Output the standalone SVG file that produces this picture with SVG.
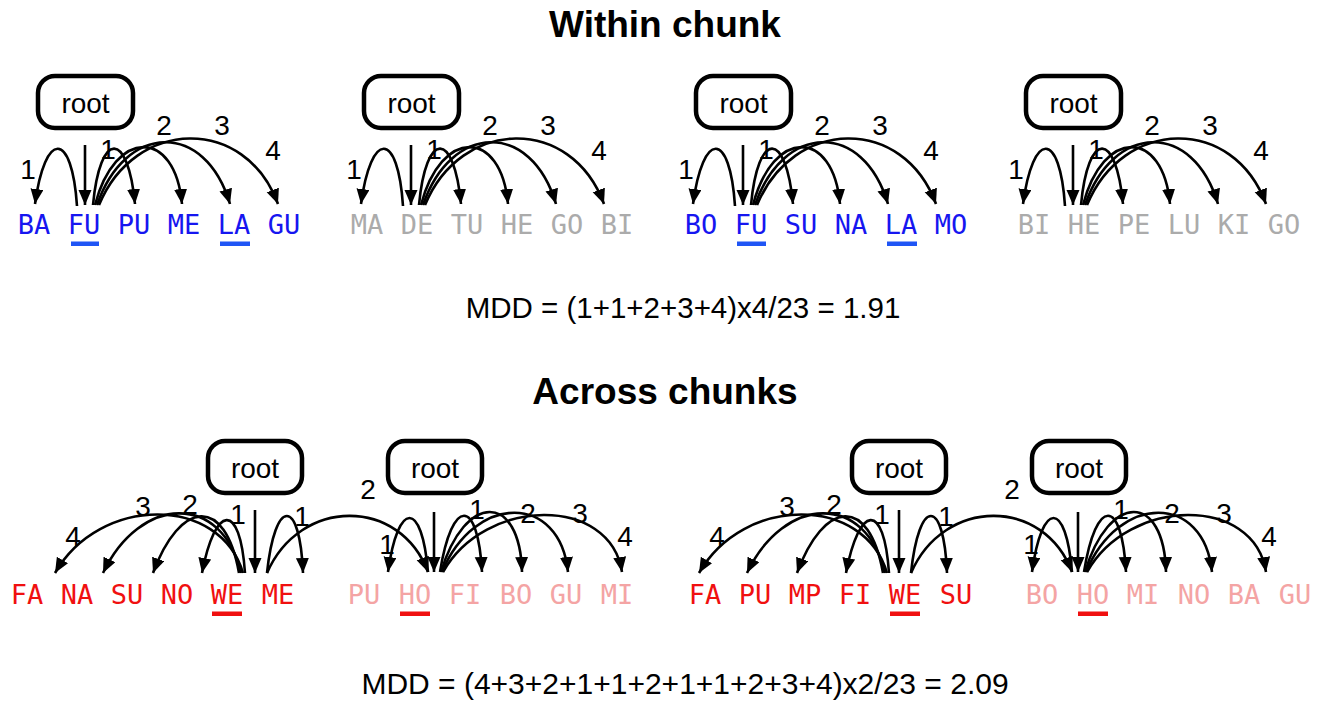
<svg xmlns="http://www.w3.org/2000/svg" width="1325" height="702" viewBox="0 0 1325 702">
<style>
.title{font-family:"Liberation Sans",Arial,sans-serif;font-weight:bold;font-size:37px;text-anchor:middle;fill:#000}
.formula{font-family:"Liberation Sans",Arial,sans-serif;font-size:29.5px;text-anchor:middle;fill:#000}
.rootbox{fill:#fff;stroke:#000;stroke-width:4.5}
.roottxt{font-family:"Liberation Sans",Arial,sans-serif;font-size:28px;text-anchor:middle;fill:#000}
.w{font-family:"DejaVu Sans Mono","Liberation Mono",monospace;font-size:27px;text-anchor:middle}
.blue{fill:#1616f0}
.gray{fill:#ababab}
.red{fill:#f01010}
.pink{fill:#f4a4a4}
.ulb{fill:#1f55f5}
.ulr{fill:#f01010}
.arc{fill:none;stroke:#000;stroke-width:2.6;marker-end:url(#ah)}
.lbl{font-family:"Liberation Sans",Arial,sans-serif;font-size:28px;text-anchor:middle;fill:#000}
</style>
<defs>
<marker id="ah" markerUnits="userSpaceOnUse" markerWidth="16" markerHeight="14" refX="15" refY="6.5" orient="auto">
<path d="M0,0 L15,6.5 L0,13 z" fill="#000"/>
</marker>
<g id="topConn">
<path class="arc" d="M85,145 L85,205"/>
<path class="arc" d="M77,206 C72,130 45,130 35,204"/>
<path class="arc" d="M93,205 C100,130 128,130 135,204"/>
<path class="arc" d="M95,205 C115,128 175,128 182,204"/>
<path class="arc" d="M97,205 C125,123 205,120 230,204"/>
<path class="arc" d="M99,205 C135,118 245,115 278,204"/>
<text class="lbl" x="28" y="179">1</text>
<text class="lbl" x="108" y="159">1</text>
<text class="lbl" x="164" y="135">2</text>
<text class="lbl" x="222" y="135">3</text>
<text class="lbl" x="273" y="160">4</text>
</g>
<g id="botConn">
<path class="arc" d="M255,510 L255,573"/>
<path class="arc" d="M243,573 C220,495 100,495 55,573"/>
<path class="arc" d="M241,573 C222,492 140,495 103,573"/>
<path class="arc" d="M239,573 C225,495 180,500 153,573"/>
<path class="arc" d="M245,573 C240,500 215,505 202,573"/>
<path class="arc" d="M267,573 C275,497 300,497 303,573"/>
<path class="arc" d="M267,573 C300,497 400,497 428,572"/>
<path class="arc" d="M434,512 L434,572"/>
<path class="arc" d="M428,572 C422,500 398,500 388,572"/>
<path class="arc" d="M440,572 C452,497 478,497 482,572"/>
<path class="arc" d="M441,572 C465,492 520,492 522,572"/>
<path class="arc" d="M442,572 C475,493 560,493 568,572"/>
<path class="arc" d="M443,572 C485,497 610,495 622,572"/>
<text class="lbl" x="73" y="546">4</text>
<text class="lbl" x="143" y="516">3</text>
<text class="lbl" x="190" y="514">2</text>
<text class="lbl" x="238" y="524">1</text>
<text class="lbl" x="302" y="526">1</text>
<text class="lbl" x="368" y="499">2</text>
<text class="lbl" x="387" y="554">1</text>
<text class="lbl" x="477" y="519">1</text>
<text class="lbl" x="528" y="523">2</text>
<text class="lbl" x="580" y="523">3</text>
<text class="lbl" x="625" y="546">4</text>
</g>
</defs>
<rect width="1325" height="702" fill="#fff"/>
<text class="title" x="665" y="37">Within chunk</text>
<text class="title" x="665" y="404">Across chunks</text>
<text class="formula" x="683" y="318">MDD = (1+1+2+3+4)x4/23 = 1.91</text>
<text class="formula" x="685" y="694" style="font-size:30px">MDD = (4+3+2+1+1+2+1+1+2+3+4)x2/23 = 2.09</text>

<g id="connectors">
<use href="#topConn"/>
<use href="#topConn" transform="translate(326,0)"/>
<use href="#topConn" transform="translate(658,0)"/>
<use href="#topConn" transform="translate(988,0)"/>
<use href="#botConn"/>
<use href="#botConn" transform="translate(644,0)"/>
</g>

<!-- root nodes -->
<g id="root-t1"><rect class="rootbox" x="38" y="76" width="95" height="52" rx="17"/><text class="roottxt" x="85.5" y="113">root</text></g>
<g id="root-t2"><rect class="rootbox" x="364" y="76" width="95" height="52" rx="17"/><text class="roottxt" x="411.5" y="113">root</text></g>
<g id="root-t3"><rect class="rootbox" x="696" y="76" width="95" height="52" rx="17"/><text class="roottxt" x="743.5" y="113">root</text></g>
<g id="root-t4"><rect class="rootbox" x="1026" y="76" width="95" height="52" rx="17"/><text class="roottxt" x="1073.5" y="113">root</text></g>
<g id="root-b1"><rect class="rootbox" x="208" y="441" width="94" height="52" rx="17"/><text class="roottxt" x="255" y="478">root</text></g>
<g id="root-b2"><rect class="rootbox" x="388" y="441" width="94" height="52" rx="17"/><text class="roottxt" x="435" y="478">root</text></g>
<g id="root-b3"><rect class="rootbox" x="852" y="441" width="94" height="52" rx="17"/><text class="roottxt" x="899" y="478">root</text></g>
<g id="root-b4"><rect class="rootbox" x="1032" y="441" width="94" height="52" rx="17"/><text class="roottxt" x="1079" y="478">root</text></g>

<!-- top chunk 1 -->
<g id="w-t1-BA"><text class="w blue" x="34" y="234">BA</text></g>
<g id="w-t1-FU"><text class="w blue" x="84" y="234">FU</text><rect class="ulb" x="71" y="241.5" width="28" height="4.5"/></g>
<g id="w-t1-PU"><text class="w blue" x="134" y="234">PU</text></g>
<g id="w-t1-ME"><text class="w blue" x="184" y="234">ME</text></g>
<g id="w-t1-LA"><text class="w blue" x="234" y="234">LA</text><rect class="ulb" x="220" y="241.5" width="30" height="4.5"/></g>
<g id="w-t1-GU"><text class="w blue" x="284" y="234">GU</text></g>
<!-- top chunk 2 -->
<g id="w-t2-MA"><text class="w gray" x="367" y="234">MA</text></g>
<g id="w-t2-DE"><text class="w gray" x="417" y="234">DE</text></g>
<g id="w-t2-TU"><text class="w gray" x="467" y="234">TU</text></g>
<g id="w-t2-HE"><text class="w gray" x="517" y="234">HE</text></g>
<g id="w-t2-GO"><text class="w gray" x="567" y="234">GO</text></g>
<g id="w-t2-BI"><text class="w gray" x="617" y="234">BI</text></g>
<!-- top chunk 3 -->
<g id="w-t3-BO"><text class="w blue" x="701" y="234">BO</text></g>
<g id="w-t3-FU"><text class="w blue" x="751" y="234">FU</text><rect class="ulb" x="737" y="241.5" width="29" height="4.5"/></g>
<g id="w-t3-SU"><text class="w blue" x="801" y="234">SU</text></g>
<g id="w-t3-NA"><text class="w blue" x="851" y="234">NA</text></g>
<g id="w-t3-LA"><text class="w blue" x="901" y="234">LA</text><rect class="ulb" x="887" y="241.5" width="30" height="4.5"/></g>
<g id="w-t3-MO"><text class="w blue" x="951" y="234">MO</text></g>
<!-- top chunk 4 -->
<g id="w-t4-BI"><text class="w gray" x="1034" y="234">BI</text></g>
<g id="w-t4-HE"><text class="w gray" x="1084" y="234">HE</text></g>
<g id="w-t4-PE"><text class="w gray" x="1134" y="234">PE</text></g>
<g id="w-t4-LU"><text class="w gray" x="1184" y="234">LU</text></g>
<g id="w-t4-KI"><text class="w gray" x="1234" y="234">KI</text></g>
<g id="w-t4-GO"><text class="w gray" x="1284" y="234">GO</text></g>

<!-- bottom left -->
<g id="w-b1-FA"><text class="w red" x="27" y="604">FA</text></g>
<g id="w-b1-NA"><text class="w red" x="77" y="604">NA</text></g>
<g id="w-b1-SU"><text class="w red" x="127" y="604">SU</text></g>
<g id="w-b1-NO"><text class="w red" x="177" y="604">NO</text></g>
<g id="w-b1-WE"><text class="w red" x="227" y="604">WE</text><rect class="ulr" x="212" y="611.5" width="30" height="4.5"/></g>
<g id="w-b1-ME"><text class="w red" x="278" y="604">ME</text></g>
<g id="w-b2-PU"><text class="w pink" x="364" y="604">PU</text></g>
<g id="w-b2-HO"><text class="w pink" x="415" y="604">HO</text><rect class="ulr" x="400" y="611.5" width="30" height="4.5"/></g>
<g id="w-b2-FI"><text class="w pink" x="465" y="604">FI</text></g>
<g id="w-b2-BO"><text class="w pink" x="516" y="604">BO</text></g>
<g id="w-b2-GU"><text class="w pink" x="566" y="604">GU</text></g>
<g id="w-b2-MI"><text class="w pink" x="617" y="604">MI</text></g>
<!-- bottom right -->
<g id="w-b3-FA"><text class="w red" x="705" y="604">FA</text></g>
<g id="w-b3-PU"><text class="w red" x="755" y="604">PU</text></g>
<g id="w-b3-MP"><text class="w red" x="805" y="604">MP</text></g>
<g id="w-b3-FI"><text class="w red" x="855" y="604">FI</text></g>
<g id="w-b3-WE"><text class="w red" x="905" y="604">WE</text><rect class="ulr" x="890" y="611.5" width="30" height="4.5"/></g>
<g id="w-b3-SU"><text class="w red" x="956" y="604">SU</text></g>
<g id="w-b4-BO"><text class="w pink" x="1042" y="604">BO</text></g>
<g id="w-b4-HO"><text class="w pink" x="1093" y="604">HO</text><rect class="ulr" x="1078" y="611.5" width="30" height="4.5"/></g>
<g id="w-b4-MI"><text class="w pink" x="1143" y="604">MI</text></g>
<g id="w-b4-NO"><text class="w pink" x="1194" y="604">NO</text></g>
<g id="w-b4-BA"><text class="w pink" x="1244" y="604">BA</text></g>
<g id="w-b4-GU"><text class="w pink" x="1295" y="604">GU</text></g>
</svg>
